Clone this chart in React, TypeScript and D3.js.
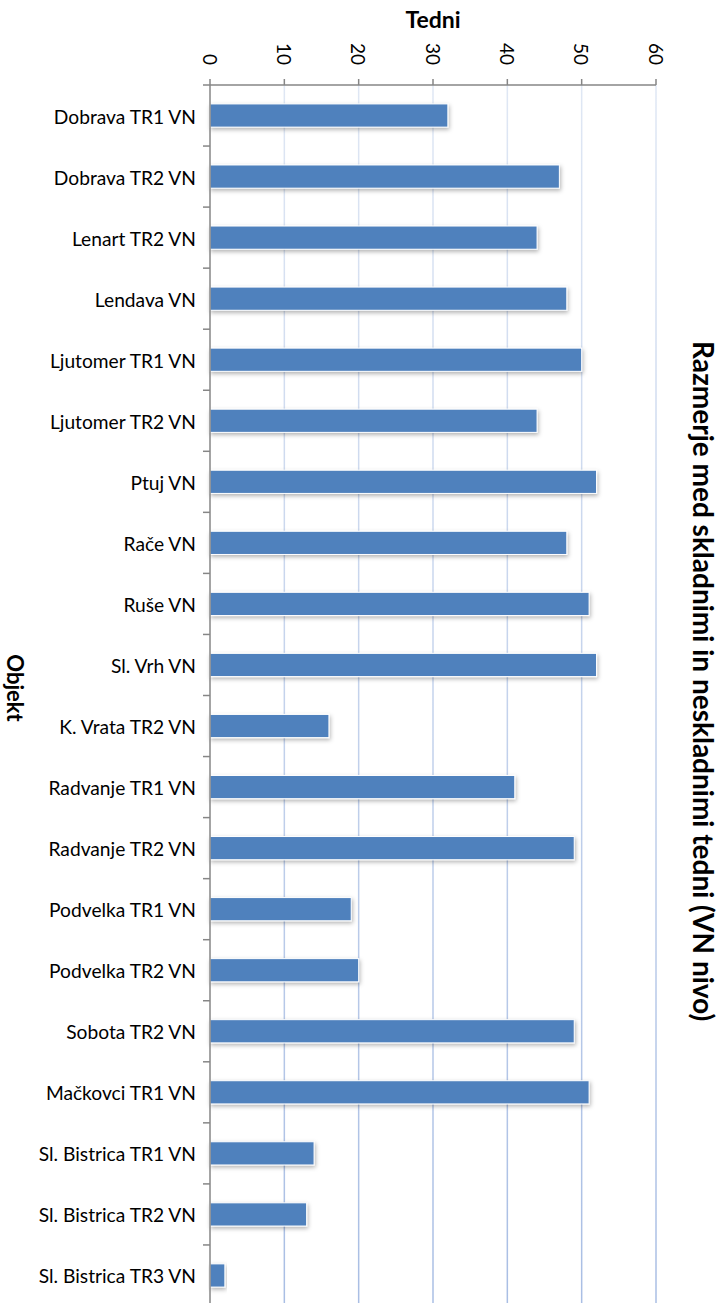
import React from "react";
import * as d3 from "d3";

const categories = [
  "Dobrava TR1 VN",
  "Dobrava TR2 VN",
  "Lenart TR2 VN",
  "Lendava VN",
  "Ljutomer TR1 VN",
  "Ljutomer TR2 VN",
  "Ptuj VN",
  "Rače VN",
  "Ruše VN",
  "Sl. Vrh VN",
  "K. Vrata TR2 VN",
  "Radvanje TR1 VN",
  "Radvanje TR2 VN",
  "Podvelka TR1 VN",
  "Podvelka TR2 VN",
  "Sobota TR2 VN",
  "Mačkovci TR1 VN",
  "Sl. Bistrica TR1 VN",
  "Sl. Bistrica TR2 VN",
  "Sl. Bistrica TR3 VN",
];

const weeks = [32, 47, 44, 48, 50, 44, 52, 48, 51, 52, 16, 41, 49, 19, 20, 49, 51, 14, 13, 2];

const xTicks = [0, 10, 20, 30, 40, 50, 60];

const valueTitle = "Tedni";
const categoryTitle = "Objekt";
const chartTitle = "Razmerje med skladnimi in neskladnimi tedni (VN nivo)";

const W = 726;
const H = 1303;
const FONT = "Lato, 'Open Sans', 'Liberation Sans', sans-serif";

export default function App() {
  const left = 210;
  const right = 656;
  const top = 85;
  const bottom = 1306;

  const x = d3.scaleLinear().domain([0, 60]).range([left, right]);
  const y = d3.scaleBand<string>().domain(categories).range([top, bottom]).padding(0);
  const bw = y.bandwidth();
  const barH = bw * 0.38;

  const boundaries = [...categories.map((c) => y(c) as number), bottom];

  return (
    <svg
      width={W}
      height={H}
      style={{ position: "absolute", left: 0, top: 0, background: "#fff" }}
      fontFamily={FONT}
    >
      <defs>
        <linearGradient id="gridGrad" gradientUnits="userSpaceOnUse" x1="0" y1={top} x2="0" y2={bottom}>
          <stop offset="0" stopColor="#dfe7f4" />
          <stop offset="1" stopColor="#a9bee4" />
        </linearGradient>
        <filter id="barShadow" x="-10%" y="-40%" width="120%" height="180%">
          <feDropShadow dx="1" dy="2" stdDeviation="2" floodColor="#000" floodOpacity="0.3" />
        </filter>
      </defs>

      {/* vertical gridlines */}
      {xTicks.slice(1).map((t) => (
        <line key={`g${t}`} x1={x(t)} x2={x(t)} y1={top} y2={bottom} stroke="url(#gridGrad)" strokeWidth={1.5} />
      ))}

      {/* bars */}
      {categories.map((c, i) => (
        <rect
          key={c}
          x={x(0)}
          y={(y(c) as number) + (bw - barH) / 2}
          width={x(weeks[i]) - x(0)}
          height={barH}
          fill="#4f81bd"
          stroke="#fff"
          strokeWidth={1}
          filter="url(#barShadow)"
        />
      ))}

      {/* value axis on top */}
      <line x1={left} x2={right} y1={top} y2={top} stroke="#868686" strokeWidth={1.5} />
      {xTicks.map((t) => (
        <g key={`t${t}`}>
          <line x1={x(t)} x2={x(t)} y1={top - 6} y2={top} stroke="#868686" strokeWidth={1.5} />
          <text
            transform={`translate(${x(t)},65) rotate(90)`}
            textAnchor="end"
            dominantBaseline="central"
            fontSize={19}
            fill="#000"
          >
            {t}
          </text>
        </g>
      ))}

      {/* category axis */}
      <line x1={left} x2={left} y1={top} y2={bottom} stroke="#868686" strokeWidth={1.5} />
      {boundaries.map((b, i) => (
        <line key={`b${i}`} x1={left - 7} x2={left} y1={b} y2={b} stroke="#868686" strokeWidth={1.5} />
      ))}
      {categories.map((c) => (
        <text
          key={`l${c}`}
          x={196}
          y={(y(c) as number) + bw / 2 + 8}
          textAnchor="end"
          fontSize={19.2}
          fill="#000"
        >
          {c}
        </text>
      ))}

      {/* titles */}
      <text x={(left + right) / 2} y={28} textAnchor="middle" fontSize={23} fontWeight="bold" fill="#000">
        {valueTitle}
      </text>
      <text transform={`translate(7,688) rotate(90)`} textAnchor="middle" fontSize={22} fontWeight="bold" fill="#000">
        {categoryTitle}
      </text>
      <text transform={`translate(693,681) rotate(90)`} textAnchor="middle" fontSize={28} fontWeight="bold" fill="#000">
        {chartTitle}
      </text>
    </svg>
  );
}
